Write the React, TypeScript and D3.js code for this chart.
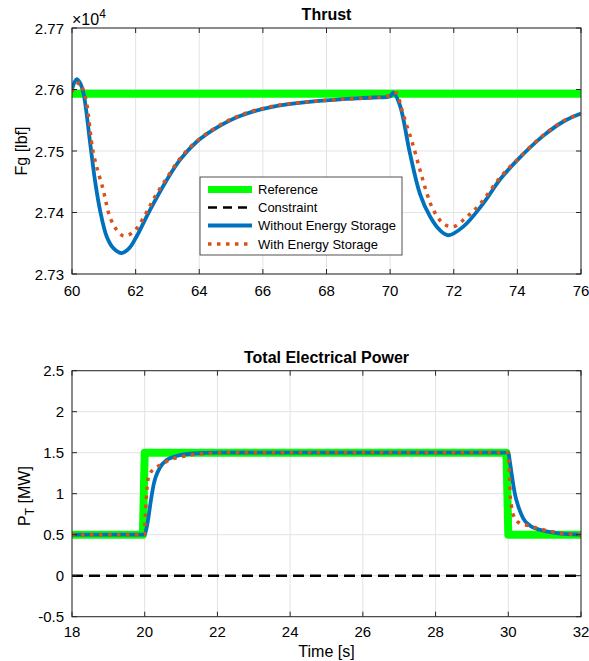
import React from "react";
import * as d3 from "d3";

// ---------- Data ----------
// Thrust plot (lbf)
const thrustRefT = [60, 76];
const thrustRefV = [27593, 27593];

const thrustNoEsT = [60, 60.08, 60.15, 60.25, 60.36, 60.57, 60.72, 60.88, 61.09, 61.3, 61.56, 61.8, 62.03, 62.45, 62.98, 63.4, 63.92, 64.55, 65.28, 66.33, 67.9, 69.47, 70.0, 70.1, 70.31, 70.62, 70.94, 71.26, 71.55, 71.83, 72.3, 72.93, 73.46, 74.09, 74.82, 75.45, 76];
const thrustNoEsV = [27600, 27612, 27617, 27611, 27594, 27513, 27453, 27404, 27361, 27342, 27334, 27342, 27361, 27404, 27453, 27486, 27515, 27538, 27557, 27572, 27582, 27587, 27589, 27595, 27574, 27497, 27430, 27393, 27372, 27363, 27377, 27415, 27454, 27490, 27525, 27548, 27561];

const thrustEsT = [60, 60.1, 60.25, 60.35, 60.46, 60.67, 60.98, 61.19, 61.4, 61.61, 61.8, 62.03, 62.35, 62.6, 62.98, 63.4, 63.92, 64.55, 65.28, 66.33, 67.9, 69.47, 70.0, 70.2, 70.35, 70.5, 70.7, 70.94, 71.15, 71.36, 71.67, 71.99, 72.41, 72.83, 73.46, 74.09, 74.82, 75.45, 76];
const thrustEsV = [27596, 27605, 27611, 27600, 27578, 27497, 27437, 27393, 27372, 27362, 27364, 27374, 27401, 27425, 27456, 27488, 27516, 27539, 27558, 27573, 27582, 27587, 27590, 27594, 27570, 27545, 27513, 27469, 27432, 27404, 27382, 27377, 27393, 27414, 27457, 27491, 27526, 27549, 27561];

const thrustXTicks = [60, 62, 64, 66, 68, 70, 72, 74, 76];
const thrustYTicks = [27300, 27400, 27500, 27600, 27700];
const thrustYTickLabels = ["2.73", "2.74", "2.75", "2.76", "2.77"];

// Power plot (MW)
const powerRefT = [18, 19.95, 20.0, 29.95, 30.0, 32];
const powerRefV = [0.5, 0.5, 1.5, 1.5, 0.5, 0.5];

const powerConstrT = [18, 32];
const powerConstrV = [0, 0];

const powerNoEsT = [18, 20.0, 20.05, 20.1, 20.15, 20.2, 20.25, 20.3, 20.42, 20.6, 20.88, 21.33, 22, 30.0, 30.04, 30.09, 30.18, 30.28, 30.41, 30.6, 30.87, 31.33, 32];
const powerNoEsV = [0.5, 0.5, 0.58, 0.7, 0.86, 1.0, 1.12, 1.2, 1.32, 1.41, 1.46, 1.49, 1.5, 1.5, 1.4, 1.25, 1.0, 0.84, 0.7, 0.61, 0.56, 0.52, 0.5];

const powerEsT = [18, 19.99, 20.02, 20.04, 20.07, 20.1, 20.15, 20.28, 20.51, 20.74, 21.0, 21.25, 21.7, 22.3, 29.99, 30.01, 30.03, 30.05, 30.09, 30.18, 30.32, 30.55, 30.87, 31.42, 32];
const powerEsV = [0.5, 0.5, 0.75, 0.92, 1.1, 1.2, 1.25, 1.31, 1.37, 1.42, 1.45, 1.47, 1.49, 1.5, 1.5, 1.4, 1.25, 1.0, 0.84, 0.7, 0.64, 0.61, 0.57, 0.52, 0.5];

const powerXTicks = [18, 20, 22, 24, 26, 28, 30, 32];
const powerYTicks = [-0.5, 0, 0.5, 1, 1.5, 2, 2.5];
const powerYTickLabels = ["-0.5", "0", "0.5", "1", "1.5", "2", "2.5"];

const legendLabels = ["Reference", "Constraint", "Without Energy Storage", "With Energy Storage"];

// ---------- Styles ----------
const FONT = "'Liberation Sans', Arial, Helvetica, sans-serif";
const GREEN = "#00ff00";
const BLUE = "#0072BD";
const ORANGE = "#D95319";
const AXIS = "#262626";
const GRID = "#e3e3e3";

const styles = [
  { stroke: GREEN, width: 8, dash: undefined as string | undefined, smooth: false },
  { stroke: "#000", width: 2.5, dash: "11,6", smooth: false },
  { stroke: BLUE, width: 3.8, dash: undefined, smooth: true },
  { stroke: ORANGE, width: 3.5, dash: "3.5,5.5", smooth: true },
];

type Series = { t: number[]; v: number[]; style: number };

function Panel(props: {
  id: string;
  left: number; top: number; right: number; bottom: number;
  xDomain: [number, number]; yDomain: [number, number];
  xTicks: number[]; yTicks: number[]; yTickLabels: string[];
  series: Series[];
  title: string; titleY: number; xTickY: number;
  smoothCurve: d3.CurveFactory;
}) {
  const { id, left, top, right, bottom, xDomain, yDomain, xTicks, yTicks, yTickLabels, series, title, titleY, xTickY, smoothCurve } = props;
  const x = d3.scaleLinear().domain(xDomain).range([left, right]);
  const y = d3.scaleLinear().domain(yDomain).range([bottom, top]);
  const tl = 5;
  return (
    <g>
      <defs>
        <clipPath id={id}>
          <rect x={left} y={top} width={right - left} height={bottom - top} />
        </clipPath>
      </defs>
      <rect x={left} y={top} width={right - left} height={bottom - top} fill="#fff" />
      {xTicks.map((t) => (
        <line key={"gx" + t} x1={x(t)} x2={x(t)} y1={top} y2={bottom} stroke={GRID} strokeWidth={1} />
      ))}
      {yTicks.map((t) => (
        <line key={"gy" + t} x1={left} x2={right} y1={y(t)} y2={y(t)} stroke={GRID} strokeWidth={1} />
      ))}
      <g clipPath={`url(#${id})`}>
        {series.map((s, i) => {
          const st = styles[s.style];
          const pts = s.t.map((t, k) => [t, s.v[k]] as [number, number]);
          const line = d3.line<[number, number]>().x((d) => x(d[0])).y((d) => y(d[1]))
            .curve(st.smooth ? smoothCurve : d3.curveLinear);
          return (
            <path key={i} d={line(pts) || ""} fill="none" stroke={st.stroke} strokeWidth={st.width}
              strokeDasharray={st.dash} strokeLinejoin="round" strokeLinecap={s.style === 0 ? "round" : "butt"} />
          );
        })}
      </g>
      <rect x={left} y={top} width={right - left} height={bottom - top} fill="none" stroke={AXIS} strokeWidth={1} />
      {xTicks.map((t) => (
        <g key={"tx" + t}>
          <line x1={x(t)} x2={x(t)} y1={bottom} y2={bottom - tl} stroke={AXIS} />
          <line x1={x(t)} x2={x(t)} y1={top} y2={top + tl} stroke={AXIS} />
          <text x={x(t)} y={xTickY} textAnchor="middle" fontSize={15} fontFamily={FONT} fill="#000">{t}</text>
        </g>
      ))}
      {yTicks.map((t, i) => (
        <g key={"ty" + t}>
          <line x1={left} x2={left + tl} y1={y(t)} y2={y(t)} stroke={AXIS} />
          <line x1={right} x2={right - tl} y1={y(t)} y2={y(t)} stroke={AXIS} />
          <text x={left - 8} y={y(t) + 5.5} textAnchor="end" fontSize={15} fontFamily={FONT} fill="#000">{yTickLabels[i]}</text>
        </g>
      ))}
      <text x={(left + right) / 2} y={titleY} textAnchor="middle" fontSize={16} fontWeight="bold" fontFamily={FONT} fill="#000">{title}</text>
    </g>
  );
}

function Legend() {
  const x0 = 200, y0 = 177, w = 202, h = 78;
  const rowY = [189.5, 207.5, 225.5, 244];
  return (
    <g>
      <rect x={x0} y={y0} width={w} height={h} fill="#fff" stroke={AXIS} strokeWidth={0.8} />
      {legendLabels.map((lab, i) => {
        const st = styles[i];
        return (
          <g key={lab}>
            <line x1={208} x2={252} y1={rowY[i]} y2={rowY[i]} stroke={st.stroke}
              strokeWidth={i === 0 ? 7 : st.width} strokeDasharray={i === 1 ? "9,6" : st.dash} />
            <text x={258} y={rowY[i] + 4.5} fontSize={13} fontFamily={FONT} fill="#000">{lab}</text>
          </g>
        );
      })}
    </g>
  );
}

export default function App() {
  return (
    <svg width={589} height={661} style={{ position: "absolute", left: 0, top: 0, background: "#fff" }}>
      <rect width={589} height={661} fill="#fff" />
      <Panel id="clipTop" left={72} top={28} right={581} bottom={274}
        xDomain={[60, 76]} yDomain={[27300, 27700]}
        xTicks={thrustXTicks} yTicks={thrustYTicks} yTickLabels={thrustYTickLabels}
        series={[
          { t: thrustRefT, v: thrustRefV, style: 0 },
          { t: thrustNoEsT, v: thrustNoEsV, style: 2 },
          { t: thrustEsT, v: thrustEsV, style: 3 },
        ]}
        smoothCurve={d3.curveCatmullRom.alpha(0.5)}
        title="Thrust" titleY={20} xTickY={296} />
      <text x={72} y={25} fontSize={16} fontFamily={FONT} fill="#000">
        ×10<tspan fontSize={12} dy={-7}>4</tspan>
      </text>
      <text transform="translate(27,151) rotate(-90)" textAnchor="middle" fontSize={16} fontFamily={FONT} fill="#000">Fg [lbf]</text>
      <Legend />

      <Panel id="clipBot" left={72} top={370.7} right={581} bottom={616.7}
        xDomain={[18, 32]} yDomain={[-0.5, 2.5]}
        xTicks={powerXTicks} yTicks={powerYTicks} yTickLabels={powerYTickLabels}
        series={[
          { t: powerRefT, v: powerRefV, style: 0 },
          { t: powerConstrT, v: powerConstrV, style: 1 },
          { t: powerNoEsT, v: powerNoEsV, style: 2 },
          { t: powerEsT, v: powerEsV, style: 3 },
        ]}
        smoothCurve={d3.curveMonotoneX}
        title="Total Electrical Power" titleY={363} xTickY={637} />
      <text transform="translate(30,496) rotate(-90)" textAnchor="middle" fontSize={16} fontFamily={FONT} fill="#000">
        P<tspan fontSize={12} dy={4}>T</tspan><tspan dy={-4}> [MW]</tspan>
      </text>
      <text x={326.5} y={657} textAnchor="middle" fontSize={16} fontFamily={FONT} fill="#000">Time [s]</text>
    </svg>
  );
}
